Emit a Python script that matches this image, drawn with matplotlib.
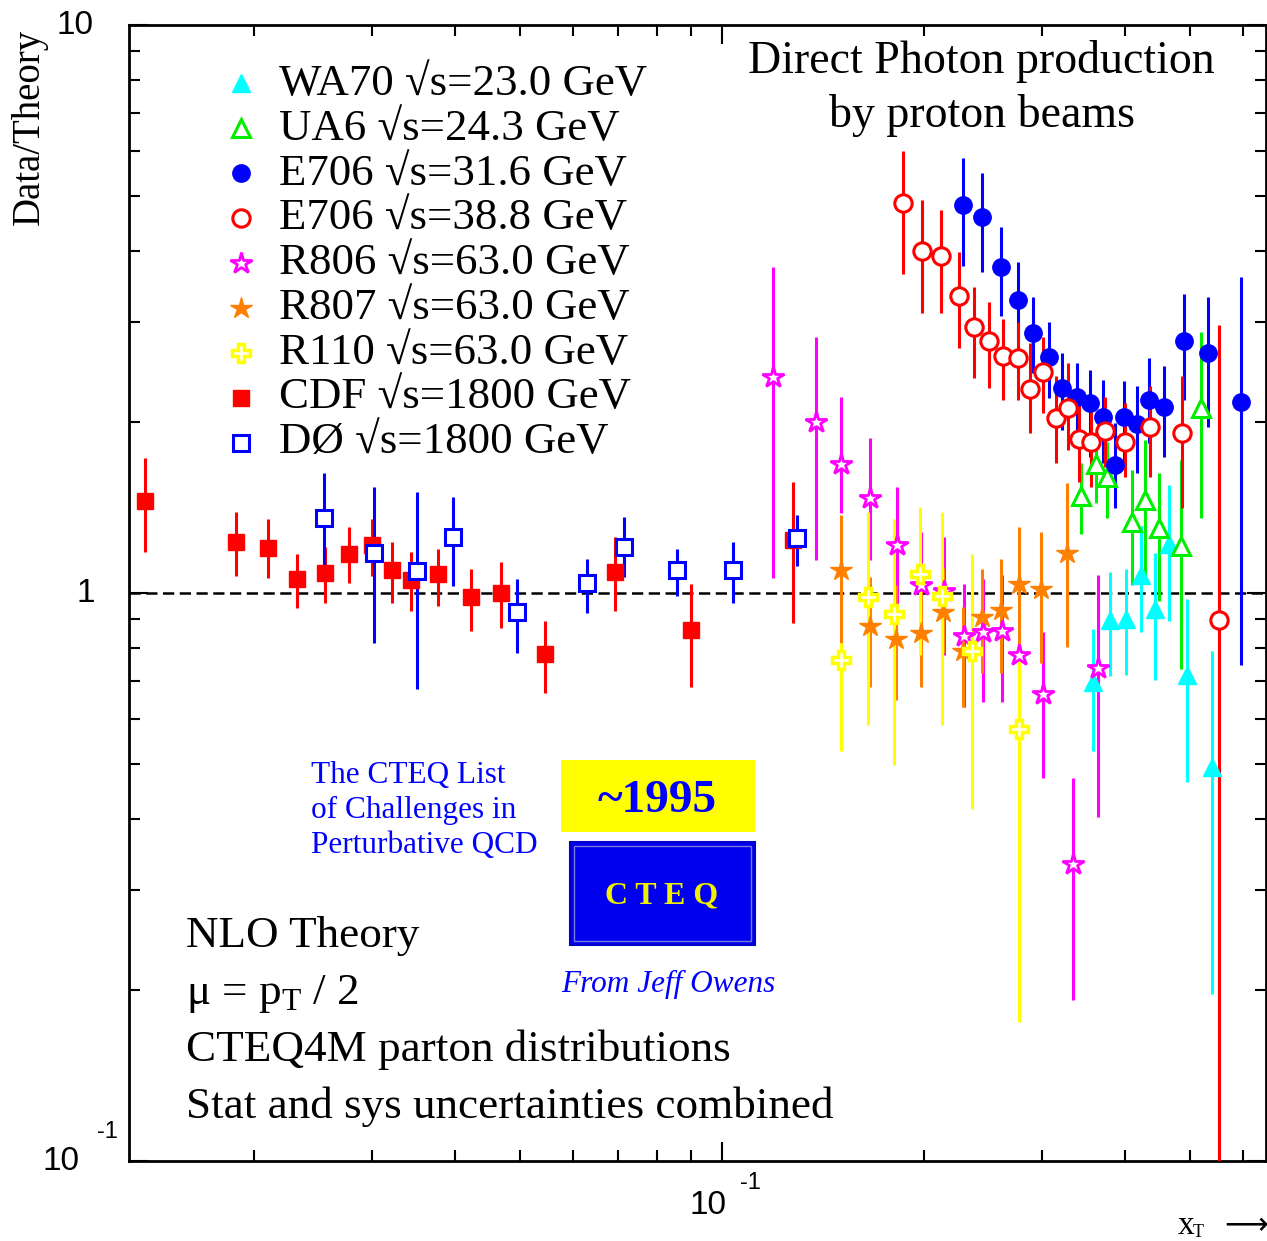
import matplotlib
matplotlib.use('Agg')
import matplotlib.pyplot as plt
import numpy as np
from matplotlib.ticker import FixedLocator, LogLocator, NullFormatter
from matplotlib.patches import Rectangle

plt.rcParams['mathtext.fontset'] = 'custom'
plt.rcParams['mathtext.rm'] = 'Liberation Serif'
plt.rcParams['mathtext.it'] = 'Liberation Serif:italic'
plt.rcParams['mathtext.bf'] = 'Liberation Serif:bold'

SERIF = ['Liberation Serif', 'DejaVu Serif']
SANS = ['Liberation Sans', 'DejaVu Sans']

# ---------------- data (x_T, Data/Theory, upper and lower ends of error bars) ----------------
wa70_x = [0.3576, 0.3794, 0.4005, 0.4216, 0.4429, 0.4652, 0.4949, 0.5381]
wa70_y = [0.698, 0.895, 0.901, 1.077, 0.939, 1.220, 0.718, 0.493]
wa70_hi = [0.864, 1.089, 1.102, 1.312, 1.176, 1.549, 0.974, 0.789]
wa70_lo = [0.526, 0.713, 0.718, 0.855, 0.703, 0.893, 0.465, 0.197]

ua6_x = [0.3434, 0.3616, 0.3754, 0.4092, 0.4279, 0.4490, 0.4843, 0.5187]
ua6_y = [1.482, 1.687, 1.601, 1.334, 1.458, 1.302, 1.210, 2.121]
ua6_hi = [1.694, 1.923, 1.847, 1.646, 1.859, 1.626, 1.715, 2.884]
ua6_lo = [1.272, 1.440, 1.355, 1.033, 1.071, 0.968, 0.735, 1.354]

e706a_x = [0.2289, 0.2444, 0.2609, 0.2766, 0.2912, 0.3077, 0.3217, 0.3388, 0.3543,
           0.3705, 0.3861, 0.3981, 0.4163, 0.4338, 0.4568, 0.4894, 0.5314, 0.5952]
e706a_y = [4.822, 4.586, 3.753, 3.281, 2.866, 2.606, 2.293, 2.216, 2.158,
           2.044, 1.680, 2.041, 1.984, 2.187, 2.128, 2.781, 2.642, 2.172]
e706a_hi = [5.826, 5.482, 4.404, 3.822, 3.324, 3.004, 2.642, 2.537, 2.470,
            2.371, 1.990, 2.366, 2.314, 2.590, 2.510, 3.360, 3.324, 3.605]
e706a_lo = [3.764, 3.679, 3.075, 2.789, 2.437, 2.202, 1.936, 1.810, 1.738,
            1.692, 1.409, 1.692, 1.624, 1.835, 1.738, 2.187, 1.963, 0.747]

e706b_x = [0.1862, 0.1988, 0.2123, 0.2258, 0.2377, 0.2503, 0.2627, 0.2766, 0.2883, 0.3014,
           0.3152, 0.3284, 0.3411, 0.3555, 0.3730, 0.3996, 0.4354, 0.4861, 0.5518]
e706b_y = [4.855, 4.006, 3.926, 3.338, 2.936, 2.781, 2.614, 2.590, 2.284, 2.447,
           2.031, 2.121, 1.867, 1.845, 1.929, 1.845, 1.960, 1.911, 0.896]
e706b_hi = [6.006, 4.920, 4.725, 3.985, 3.462, 3.258, 3.037, 3.004, 2.755, 2.827,
            2.410, 2.537, 2.216, 2.160, 2.216, 2.160, 2.314, 2.413, 2.964]
e706b_lo = [3.644, 3.112, 3.112, 2.700, 2.390, 2.296, 2.187, 2.187, 1.915, 2.077,
            1.696, 1.786, 1.570, 1.539, 1.669, 1.603, 1.603, 1.409, 0.05]

r806_x = [0.1191, 0.1379, 0.1505, 0.1663, 0.1823, 0.1982, 0.2145, 0.2297, 0.2455, 0.2614,
          0.2775, 0.3014, 0.3345, 0.3637]
r806_y = [2.403, 2.003, 1.686, 1.470, 1.215, 1.033, 1.008, 0.840, 0.854, 0.857,
          0.778, 0.664, 0.333, 0.739]
r806_hi = [3.753, 2.827, 2.214, 1.873, 1.537, 1.281, 1.255, 1.039, 1.058, 1.076,
           0.972, 0.854, 0.472, 1.077]
r806_lo = [1.063, 1.143, 1.383, 1.143, 0.904, 0.778, 0.778, 0.631, 0.644, 0.643,
           0.567, 0.472, 0.192, 0.403]

r807_x = [0.1505, 0.1663, 0.1819, 0.1979, 0.2135, 0.2291, 0.2447, 0.2609, 0.2775, 0.2988, 0.3267]
r807_y = [1.098, 0.875, 0.830, 0.850, 0.926, 0.790, 0.907, 0.933, 1.039, 1.018, 1.178]
r807_hi = [1.372, 1.068, 1.033, 1.093, 1.107, 0.946, 1.102, 1.148, 1.308, 1.282, 1.562]
r807_lo = [0.817, 0.684, 0.648, 0.683, 0.784, 0.631, 0.724, 0.723, 0.703, 0.754, 0.804]

r110_x = [0.1503, 0.1652, 0.1806, 0.1977, 0.2130, 0.2358, 0.2775]
r110_y = [0.762, 0.984, 0.917, 1.080, 0.988, 0.790, 0.576]
r110_hi = [0.817, 1.390, 1.350, 1.419, 1.390, 1.171, 0.778]
r110_lo = [0.526, 0.586, 0.497, 0.778, 0.586, 0.417, 0.176]

cdf_x = [0.01376, 0.01882, 0.02101, 0.02321, 0.02556, 0.02775, 0.03003, 0.03217,
         0.03434, 0.03768, 0.04221, 0.04678, 0.05442, 0.06924, 0.08989, 0.1276]
cdf_y = [1.454, 1.231, 1.202, 1.058, 1.086, 1.171, 1.215, 1.098,
         1.054, 1.080, 0.984, 1.001, 0.781, 1.090, 0.861, 1.240]
cdf_hi = [1.729, 1.389, 1.350, 1.171, 1.206, 1.308, 1.350, 1.231,
          1.182, 1.195, 1.102, 1.135, 0.894, 1.255, 1.037, 1.568]
cdf_lo = [1.181, 1.071, 1.063, 0.941, 0.960, 1.041, 1.071, 0.960,
          0.931, 0.949, 0.858, 0.868, 0.668, 0.931, 0.683, 0.887]

d0_x = [0.02542, 0.03027, 0.03500, 0.03966, 0.04950, 0.06289, 0.07147, 0.08566, 0.1039, 0.1294]
d0_y = [1.357, 1.178, 1.095, 1.255, 0.927, 1.041, 1.206, 1.098, 1.098, 1.250]
d0_hi = [1.629, 1.537, 1.506, 1.476, 1.058, 1.148, 1.361, 1.195, 1.231, 1.372]
d0_lo = [1.095, 0.818, 0.678, 1.029, 0.785, 0.923, 1.068, 0.988, 0.960, 1.116]

labels = ['WA70 \u221as=23.0 GeV', 'UA6 \u221as=24.3 GeV', 'E706 \u221as=31.6 GeV',
          'E706 \u221as=38.8 GeV', 'R806 \u221as=63.0 GeV', 'R807 \u221as=63.0 GeV',
          'R110 \u221as=63.0 GeV', 'CDF \u221as=1800 GeV', 'D\u00d8 \u221as=1800 GeV']

x_minor_ticks = [0.02, 0.03, 0.04, 0.05, 0.06, 0.07, 0.08, 0.09, 0.2, 0.3, 0.4, 0.5, 0.6]

# ---------------- styles ----------------
CYAN, GREEN, BLUE, RED = '#00FFFF', '#00EE00', '#0000FF', '#FF0000'
MAG, ORANGE, YELLOW = '#FF00FF', '#FF8000', '#FFFF00'
styles = [
    dict(marker='^', color=CYAN, mfc=CYAN, mec=CYAN, ms=13, mew=1),
    dict(marker='^', color=GREEN, mfc='white', mec=GREEN, ms=13, mew=2.2),
    dict(marker='o', color=BLUE, mfc=BLUE, mec=BLUE, ms=12.5, mew=1),
    dict(marker='o', color=RED, mfc='white', mec=RED, ms=12.5, mew=2.2),
    dict(marker='*', color=MAG, mfc='white', mec=MAG, ms=16, mew=2),
    dict(marker='*', color=ORANGE, mfc=ORANGE, mec=ORANGE, ms=16, mew=1),
    dict(marker='P', color=YELLOW, mfc='white', mec=YELLOW, ms=13, mew=2.5),
    dict(marker='s', color=RED, mfc=RED, mec=RED, ms=12, mew=1),
    dict(marker='s', color=BLUE, mfc='white', mec=BLUE, ms=12, mew=2.2),
]
datasets = [
    (wa70_x, wa70_y, wa70_hi, wa70_lo),
    (ua6_x, ua6_y, ua6_hi, ua6_lo),
    (e706a_x, e706a_y, e706a_hi, e706a_lo),
    (e706b_x, e706b_y, e706b_hi, e706b_lo),
    (r806_x, r806_y, r806_hi, r806_lo),
    (r807_x, r807_y, r807_hi, r807_lo),
    (r110_x, r110_y, r110_hi, r110_lo),
    (cdf_x, cdf_y, cdf_hi, cdf_lo),
    (d0_x, d0_y, d0_hi, d0_lo),
]

# ---------------- figure ----------------
W, H = 1267, 1241
fig = plt.figure(figsize=(W / 100, H / 100), dpi=100)


def fx(px):
    return px / W


def fy(py):
    return 1 - py / H


AX_L, AX_R, AX_T, AX_B = 129, 1266, 25, 1161
ax = fig.add_axes([fx(AX_L), fy(AX_B), (AX_R - AX_L) / W, (AX_B - AX_T) / H])
ax.set_xscale('log')
ax.set_yscale('log')

ax.axhline(1.0, color='black', lw=1.8, ls=(0, (4.5, 2.2)), zorder=1)

for (x, y, hi, lo), st in zip(datasets, styles):
    x = np.array(x); y = np.array(y); hi = np.array(hi); lo = np.array(lo)
    ax.errorbar(x, y, yerr=[y - lo, hi - y], fmt=st['marker'], linestyle='none',
                color=st['color'], ecolor=st['color'], elinewidth=2.2, capsize=0,
                mfc=st['mfc'], mec=st['mec'], ms=st['ms'], mew=st['mew'], zorder=3)

ax.set_xlim(0.013025, 0.6484)
ax.set_ylim(0.1, 10)

ax.xaxis.set_major_locator(FixedLocator([0.1]))
ax.xaxis.set_minor_locator(FixedLocator(x_minor_ticks))
ax.yaxis.set_major_locator(FixedLocator([0.1, 1, 10]))
ax.yaxis.set_minor_locator(LogLocator(base=10, subs=range(2, 10)))
for a in (ax.xaxis, ax.yaxis):
    a.set_major_formatter(NullFormatter())
    a.set_minor_formatter(NullFormatter())
ax.tick_params(which='both', direction='in', top=True, right=True,
               labelbottom=False, labelleft=False, width=1.5, color='black')
ax.tick_params(which='major', length=14)
ax.tick_params(which='minor', length=8)
for s in ax.spines.values():
    s.set_linewidth(2.0)

# ---------------- legend (manual) ----------------
for i, (lab, st) in enumerate(zip(labels, styles)):
    ax.plot([fx(241)], [fy(83 + 45 * i)], transform=fig.transFigure, clip_on=False,
            ls='none', marker=st['marker'], mfc=st['mfc'], mec=st['mec'],
            ms=st['ms'], mew=st['mew'])
    fig.text(fx(279), fy(95 + 44.75 * i), lab, fontsize=32.3, family=SERIF,
             ha='left', va='baseline')

# ---------------- tick labels ----------------
fig.text(fx(75), fy(26), '10', fontsize=24, family=SANS, ha='center', va='center')
fig.text(fx(86), fy(593), '1', fontsize=24, family=SANS, ha='center', va='center')
fig.text(fx(61), fy(1162), '10', fontsize=24, family=SANS, ha='center', va='center')
fig.text(fx(107), fy(1132), '-1', fontsize=17, family=SANS, ha='center', va='center')
fig.text(fx(708), fy(1205), '10', fontsize=24, family=SANS, ha='center', va='center')
fig.text(fx(750), fy(1183), '-1', fontsize=17, family=SANS, ha='center', va='center')

# x-axis label: x_T with arrow
fig.text(fx(1178), fy(1234), 'x', fontsize=24, family=SERIF, ha='left', va='baseline')
fig.text(fx(1193), fy(1237), 'T', fontsize=13, family=SERIF, ha='left', va='baseline')
fig.text(fx(1246), fy(1240), '\u27f6', fontsize=22, family=['DejaVu Sans'],
         ha='center', va='bottom')

fig.text(fx(29), fy(127), 'Data/Theory', fontsize=28, family=SERIF, rotation=90,
         ha='center', va='center')

# ---------------- titles and annotations ----------------
fig.text(fx(981), fy(73), 'Direct Photon production', fontsize=33, family=SERIF,
         ha='center', va='baseline')
fig.text(fx(982), fy(127), 'by proton beams', fontsize=33, family=SERIF,
         ha='center', va='baseline')

notes = ['NLO Theory', '\u03bc = p$_{\\mathrm{T}}$ / 2', 'CTEQ4M parton distributions',
         'Stat and sys uncertainties combined']
for i, t in enumerate(notes):
    fig.text(fx(186), fy(947 + 57 * i), t, fontsize=32.5, family=SERIF,
             ha='left', va='baseline')

for i, t in enumerate(['The CTEQ List', 'of Challenges in', 'Perturbative QCD']):
    fig.text(fx(311), fy(783 + 35 * i), t, fontsize=22.5, family=SERIF, color=BLUE,
             ha='left', va='baseline')

fig.patches.append(Rectangle((fx(561), fy(832)), (755 - 561) / W, (832 - 760) / H,
                             transform=fig.transFigure, facecolor=YELLOW, edgecolor='none',
                             zorder=5))
fig.text(fx(657), fy(812), '~1995', fontsize=34, family=SERIF, weight='bold', color=BLUE,
         ha='center', va='baseline', zorder=6)

fig.patches.append(Rectangle((fx(570), fy(945)), (755 - 570) / W, (945 - 842) / H,
                             transform=fig.transFigure, facecolor='#0000EE',
                             edgecolor='#0000C8', lw=1.5, zorder=5))
fig.patches.append(Rectangle((fx(574), fy(941)), (751 - 574) / W, (941 - 846) / H,
                             transform=fig.transFigure, facecolor='none',
                             edgecolor='#7A7AD8', lw=1.0, zorder=5))
fig.text(fx(662), fy(903), 'C T E Q', fontsize=23, family=SERIF, weight='bold',
         color='#F0F000', ha='center', va='baseline', zorder=6)

fig.text(fx(561), fy(992), 'From Jeff Owens', fontsize=22.5, family=SERIF, style='italic',
         color=BLUE, ha='left', va='baseline')

fig.savefig('out.png', dpi=100)
